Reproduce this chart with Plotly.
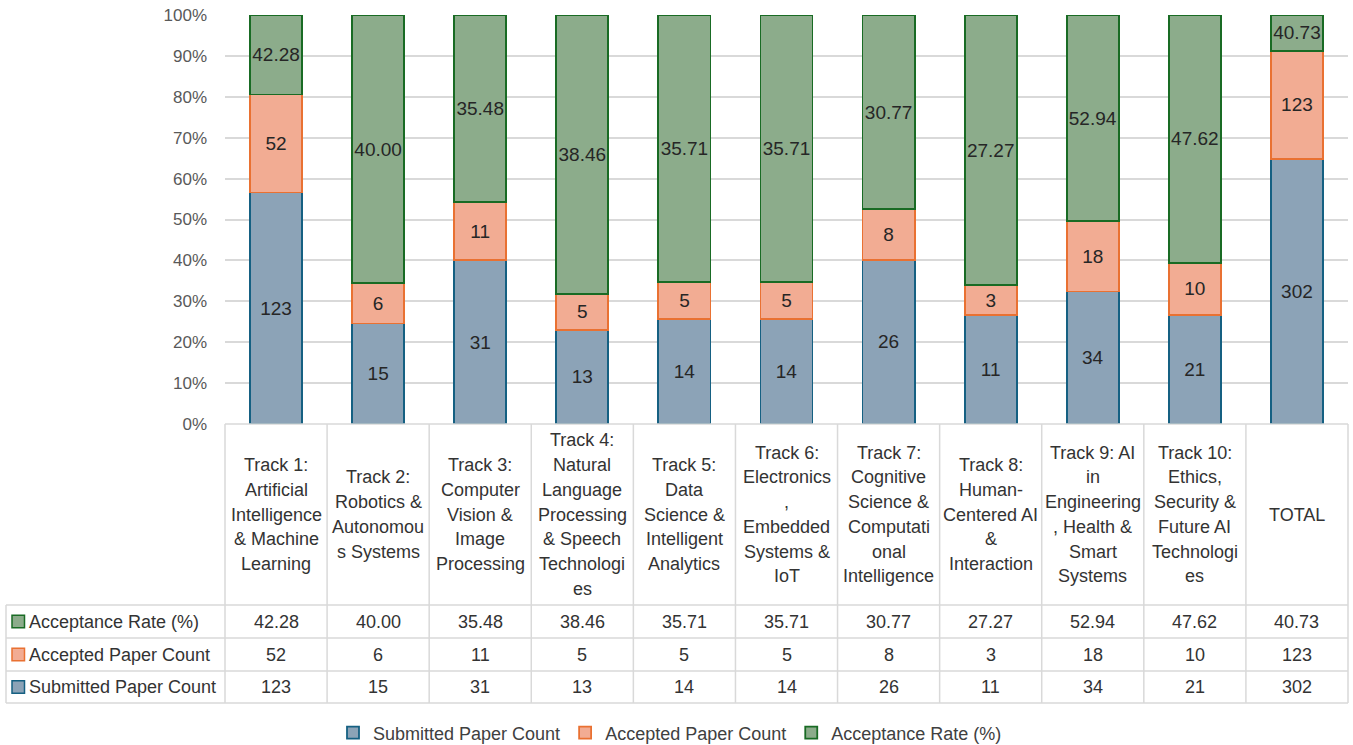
import plotly.graph_objects as go

# ---------------- data ----------------
categories = [
    "Track 1: Artificial Intelligence & Machine Learning",
    "Track 2: Robotics & Autonomous Systems",
    "Track 3: Computer Vision & Image Processing",
    "Track 4: Natural Language Processing & Speech Technologies",
    "Track 5: Data Science & Intelligent Analytics",
    "Track 6: Electronics, Embedded Systems & IoT",
    "Track 7: Cognitive Science & Computational Intelligence",
    "Track 8: Human-Centered AI & Interaction",
    "Track 9: AI in Engineering, Health & Smart Systems",
    "Track 10: Ethics, Security & Future AI Technologies",
    "TOTAL",
]

header_lines = [
    ["Track 1:", "Artificial", "Intelligence", "& Machine", "Learning"],
    ["Track 2:", "Robotics &", "Autonomou", "s Systems"],
    ["Track 3:", "Computer", "Vision &", "Image", "Processing"],
    ["Track 4:", "Natural", "Language", "Processing", "& Speech", "Technologi", "es"],
    ["Track 5:", "Data", "Science &", "Intelligent", "Analytics"],
    ["Track 6:", "Electronics", ",", "Embedded", "Systems &", "IoT"],
    ["Track 7:", "Cognitive", "Science &", "Computati", "onal", "Intelligence"],
    ["Track 8:", "Human-", "Centered AI", "&", "Interaction"],
    ["Track 9: AI", "in", "Engineering", ", Health &", "Smart", "Systems"],
    ["Track 10:", "Ethics,", "Security &", "Future AI", "Technologi", "es"],
    ["TOTAL"],
]

submitted = [123, 15, 31, 13, 14, 14, 26, 11, 34, 21, 302]
accepted = [52, 6, 11, 5, 5, 5, 8, 3, 18, 10, 123]
rate = [42.28, 40.00, 35.48, 38.46, 35.71, 35.71, 30.77, 27.27, 52.94, 47.62, 40.73]

series_names = ["Submitted Paper Count", "Accepted Paper Count", "Acceptance Rate (%)"]
y_ticks = [0, 10, 20, 30, 40, 50, 60, 70, 80, 90, 100]
y_tick_text = [f"{v}%" for v in y_ticks]

# ---------------- style ----------------
FONT = "Liberation Sans"
fills = ["#8ca3b7", "#f2ac93", "#8cac8b"]
edges = ["#156082", "#E97132", "#196B24"]
TEXT = "#262626"
TABLE_TEXT = "#333333"
GRID = "#d9d9d9"

W, H = 1353, 745
plot_left, plot_right = 225, 1348
plot_top, plot_bottom = 15, 424
L, R, T, B = plot_left, W - plot_right, plot_top, H - plot_bottom
plot_w = plot_right - plot_left
plot_h = plot_bottom - plot_top
n = len(categories)


def py(p):
    return (plot_bottom - p) / plot_h


def pxx(p):
    return (p - plot_left) / plot_w


def cx(i):
    return (i + 0.5) / n


fig = go.Figure()

series_vals = [submitted, accepted, rate]
series_text = [
    [str(v) for v in submitted],
    [str(v) for v in accepted],
    [f"{v:.2f}" for v in rate],
]
for k in range(3):
    fig.add_trace(go.Bar(
        x=categories,
        y=series_vals[k],
        name=series_names[k],
        text=series_text[k],
        textposition="inside",
        insidetextanchor="middle",
        textangle=0,
        constraintext="none",
        textfont=dict(family=FONT, size=19, color=TEXT),
        marker=dict(color=fills[k], line=dict(color=edges[k], width=1.8)),
    ))

shapes = []
annotations = []

# table lines (pixel positions)
line_style = dict(color=GRID, width=1.5)
table_top = 424
row_edges = [605, 638, 671, 703]
shapes.append(dict(type="line", xref="paper", yref="paper", x0=0, x1=1,
                   y0=py(table_top), y1=py(table_top), line=line_style))
for p in row_edges:
    shapes.append(dict(type="line", xref="paper", yref="paper", x0=pxx(6), x1=1,
                       y0=py(p), y1=py(p), line=line_style))
for k in range(n + 1):
    shapes.append(dict(type="line", xref="paper", yref="paper", x0=k / n, x1=k / n,
                       y0=py(table_top), y1=py(row_edges[-1]), line=line_style))
shapes.append(dict(type="line", xref="paper", yref="paper", x0=pxx(6), x1=pxx(6),
                   y0=py(row_edges[0]), y1=py(row_edges[-1]), line=line_style))

# header text
hdr_center = (table_top + row_edges[0]) / 2
line_gap = 24.7
for i, lines in enumerate(header_lines):
    m = len(lines)
    for j, t in enumerate(lines):
        yc = hdr_center + (j - (m - 1) / 2) * line_gap
        annotations.append(dict(text=t, xref="paper", yref="paper", x=cx(i), y=py(yc),
                                xanchor="center", yanchor="middle", showarrow=False,
                                font=dict(family=FONT, size=18, color=TABLE_TEXT)))

# table rows (top to bottom: rate, accepted, submitted)
row_order = [2, 1, 0]
for r, k in enumerate(row_order):
    yc = (row_edges[r] + row_edges[r + 1]) / 2
    shapes.append(dict(type="rect", xref="paper", yref="paper",
                       x0=pxx(12), x1=pxx(24.5), y0=py(yc - 6.3), y1=py(yc + 6.3),
                       fillcolor=fills[k], line=dict(color=edges[k], width=1.5)))
    annotations.append(dict(text=series_names[k], xref="paper", yref="paper",
                            x=pxx(27), y=py(yc), xanchor="left", yanchor="middle",
                            showarrow=False, font=dict(family=FONT, size=18, color=TABLE_TEXT)))
    for i in range(n):
        annotations.append(dict(text=series_text[k][i], xref="paper", yref="paper",
                                x=cx(i), y=py(yc), xanchor="center", yanchor="middle",
                                showarrow=False, font=dict(family=FONT, size=18, color=TABLE_TEXT)))

fig.update_layout(
    width=W, height=H,
    margin=dict(l=L, r=R, t=T, b=B, autoexpand=False),
    barmode="stack",
    barnorm="percent",
    bargap=0.49,
    plot_bgcolor="white",
    paper_bgcolor="white",
    font=dict(family=FONT, size=17, color="#595959"),
    uniformtext=dict(mode="show", minsize=19),
    shapes=shapes,
    annotations=annotations,
    showlegend=True,
    legend=dict(orientation="h", x=pxx(670), xanchor="center", y=py(733), yanchor="middle",
                font=dict(family=FONT, size=18, color="#404040"), traceorder="normal",
                bgcolor="rgba(0,0,0,0)", itemwidth=30),
    xaxis=dict(showticklabels=False, showgrid=False, zeroline=False, showline=False,
               ticks="", automargin=False),
    yaxis=dict(range=[0, 100], tickmode="array", tickvals=y_ticks, ticktext=y_tick_text,
               showgrid=True, gridcolor=GRID, gridwidth=1.5, zeroline=False, showline=False,
               ticks="", ticklabelstandoff=17, automargin=False, ticklabeloverflow="allow",
               tickfont=dict(family=FONT, size=17, color="#595959")),
)

fig.write_html("out.html", config={"displayModeBar": False},
               post_script="document.body.style.margin='0';")
